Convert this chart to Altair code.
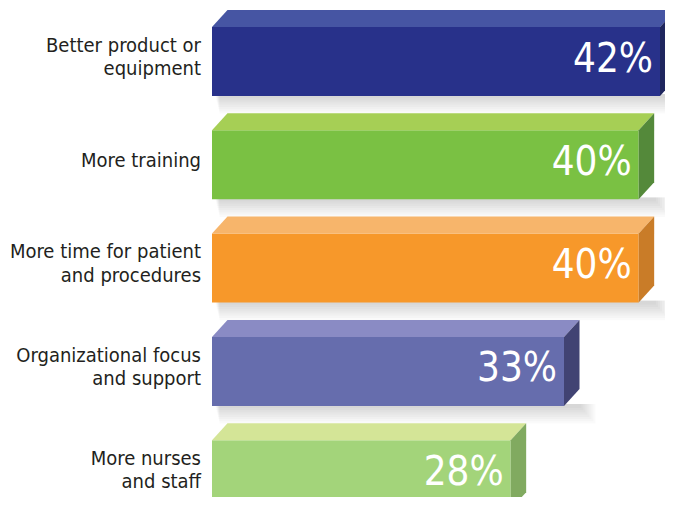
import altair as alt
import pandas as pd

# ---- data ----
categories = [
    "Better product or\nequipment",
    "More training",
    "More time for patient\nand procedures",
    "Organizational focus\nand support",
    "More nurses\nand staff",
]
values = [42, 40, 40, 33, 28]
front_colors = ["#28318A", "#7AC143", "#F7982A", "#666DAD", "#A3D47A"]
top_colors = ["#4655A3", "#A6CF55", "#F7B56B", "#8A8BC4", "#D4E597"]
side_colors = ["#1F265E", "#54893A", "#C97C28", "#414373", "#81AA60"]

# ---- layout (scale ranges in px, depth in data units) ----
X_RANGE = [204, 652]          # 0 .. 42 %
Y_RANGE = [19, 432.2]         # row 0 .. row 4
ROW_PX = (Y_RANGE[1] - Y_RANGE[0]) / 4
PCT_PX = (X_RANGE[1] - X_RANGE[0]) / 42
H = 69 / ROW_PX               # bar thickness in rows
DX = 15.5 / PCT_PX            # depth in %
DY = 17 / ROW_PX              # depth in rows
LINE_H = 23.5

rows = list(range(len(values)))
base = pd.DataFrame({
    "row": rows,
    "value": values,
    "label": categories,
    "pct": [f"{v}%" for v in values],
    "front": front_colors,
})
base["nlines"] = base["label"].str.count("\n") + 1
base["zero"] = 0.0
base["bottom"] = base["row"] + H
base["mid"] = base["row"] + H / 2
base["label_y"] = base["mid"] - (4 + (base["nlines"] - 1) * LINE_H / 2) / ROW_PX
base["pct_y"] = base["mid"] - 2 / ROW_PX
base["pct_x"] = base["value"] - 7 / PCT_PX

# top faces (horizontal areas)
top_rows = []
for r, v, c in zip(rows, values, top_colors):
    top_rows.append({"id": r, "y": r - DY, "x": DX, "x2": v + DX, "c": c})
    top_rows.append({"id": r, "y": float(r), "x": 0.0, "x2": float(v), "c": c})
top_df = pd.DataFrame(top_rows)

# side faces (vertical areas)
side_rows = []
for r, v, c in zip(rows, values, side_colors):
    side_rows.append({"id": r, "x": float(v), "y": float(r), "y2": r + H, "c": c})
    side_rows.append({"id": r, "x": v + DX, "y": r - DY, "y2": r + H - DY, "c": c})
side_df = pd.DataFrame(side_rows)

# soft shadows below the bars
shadow_rows = []
for r, v in zip(rows, values):
    for k in range(1, 9):
        shadow_rows.append({"id": r,
                            "x": 0.3 + k * 0.05,
                            "x2": v + DX + k * 2 / PCT_PX,
                            "y": r + H - 2 / ROW_PX,
                            "y2": r + H + k * 2.2 / ROW_PX})
shadow_df = pd.DataFrame(shadow_rows)

xs = alt.Scale(domain=[0, 42], range=X_RANGE, zero=False, nice=False)
ys = alt.Scale(domain=[0, 4], range=Y_RANGE, zero=False, nice=False)

shadow = alt.Chart(shadow_df).mark_rect(color="#000000", opacity=0.02).encode(
    x=alt.X("x:Q", scale=xs, axis=None),
    x2="x2:Q",
    y=alt.Y("y:Q", scale=ys, axis=None),
    y2="y2:Q",
)

front = alt.Chart(base).mark_rect().encode(
    x=alt.X("zero:Q", scale=xs, axis=None),
    x2="value:Q",
    y=alt.Y("row:Q", scale=ys, axis=None),
    y2="bottom:Q",
    fill=alt.Fill("front:N", scale=None),
)

top = alt.Chart(top_df).mark_area(orient="horizontal").encode(
    y=alt.Y("y:Q", scale=ys, axis=None),
    x=alt.X("x:Q", scale=xs, axis=None, stack=None),
    x2="x2:Q",
    detail="id:N",
    fill=alt.Fill("c:N", scale=None),
)

side = alt.Chart(side_df).mark_area(orient="vertical").encode(
    x=alt.X("x:Q", scale=xs, axis=None),
    y=alt.Y("y:Q", scale=ys, axis=None, stack=None),
    y2="y2:Q",
    detail="id:N",
    fill=alt.Fill("c:N", scale=None),
)

FONT = "DejaVu Sans Condensed, Liberation Sans Narrow, Roboto, sans-serif"

cat_text = alt.Chart(base).mark_text(
    align="right", baseline="middle", font=FONT, fontSize=20,
    color="#231F20", lineBreak="\n", lineHeight=LINE_H,
).encode(
    x=alt.value(193),
    y=alt.Y("label_y:Q", scale=ys, axis=None),
    text="label:N",
)

pct_text = alt.Chart(base).mark_text(
    align="right", baseline="middle", font=FONT, fontSize=40, color="white",
).encode(
    x=alt.X("pct_x:Q", scale=xs, axis=None),
    y=alt.Y("pct_y:Q", scale=ys, axis=None),
    text="pct:N",
)

chart = alt.layer(shadow, front, top, side, cat_text, pct_text).properties(
    width=657, height=489,
    autosize=alt.AutoSizeParams(type="none"),
    padding=0,
).configure_view(stroke=None)

chart.save("out.html", embed_options={"renderer": "svg", "actions": False})
